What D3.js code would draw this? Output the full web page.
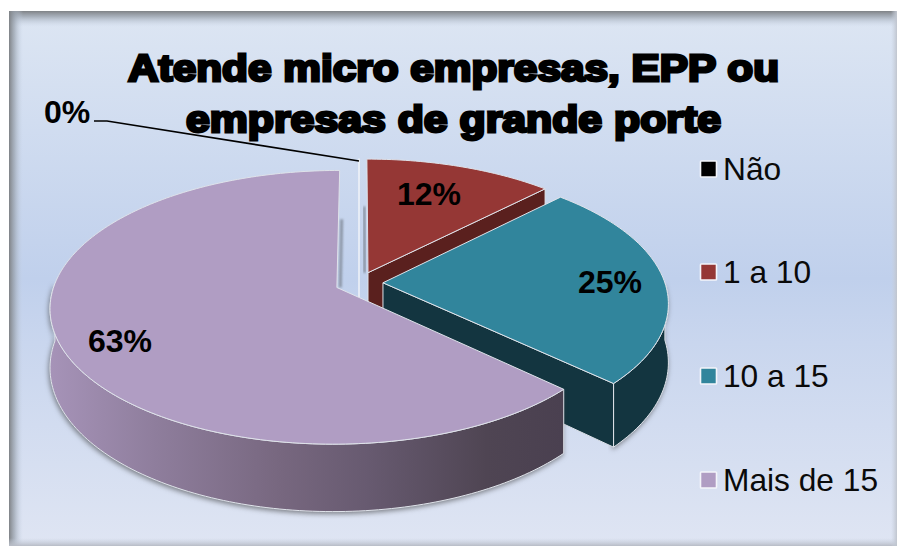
<!DOCTYPE html>
<html><head><meta charset="utf-8">
<script src="https://cdn.jsdelivr.net/npm/d3@7/dist/d3.min.js"></script>
<style>html,body{margin:0;padding:0;background:#fff}svg{display:block}</style>
</head><body><svg id="c" width="897" height="546"></svg>
<script>
const categories = ["Não", "1 a 10", "10 a 15", "Mais de 15"];
const values = [0, 12.4, 24.6, 63];
const topColors = ["#000000", "#953735", "#31859c", "#b09dc3"];
const wallColors = ["#ffffff", "#5a201e", "#133540", "#4a4050"];
const titleLines = ["Atende micro empresas, EPP ou", "empresas de grande porte"];
const labelPos = [[67,123],[429,205],[610,293],[120,352]];
const legendY = [169,272,376,480];

const svg = d3.select("#c"), defs = svg.append("defs");
const F = {x:359,y:283,R:282,K:132.7,p:0.1439,depth:57.4,explode:0.085};

function grad(id, stops, vertical){
  const g = defs.append("linearGradient").attr("id",id)
    .attr("x1",0).attr("y1",0).attr("x2",vertical?0:1).attr("y2",vertical?1:0);
  stops.forEach(s=>g.append("stop").attr("offset",s[0]).attr("stop-color",s[1]).attr("stop-opacity",s[2]===undefined?1:s[2]));
}
grad("bg",[[0,"#dde6f3"],[0.5,"#c0d0ec"],[0.62,"#c9d6ee"],[1,"#dfe5f3"]],true);
grad("edgeT",[[0,"#7f8286"],[0.35,"#9ba3ad",.8],[1,"#c8d4e6",0]],true);
grad("edgeL",[[0,"#7f8286"],[0.4,"#9aa3ae",.7],[1,"#c8d4e6",0]],false);
grad("edgeB",[[0,"#c8d0de",0],[1,"#b8bcc6"]],true);
grad("edgeR",[[0,"#c8d0de",0],[1,"#c0c5ce"]],false);
grad("purpleSide",[[0,"#a693b8"],[0.2,"#8f7e9d"],[0.45,"#77677f"],[0.62,"#675a70"],[0.85,"#4f4553"],[1,"#4a4050"]],false);
const sh = defs.append("filter").attr("id","sh").attr("x","-10%").attr("y","-10%").attr("width","120%").attr("height","125%")
  .attr("color-interpolation-filters","sRGB");
sh.append("feDropShadow").attr("dx",-1).attr("dy",2).attr("stdDeviation",2.5).attr("flood-color","#333").attr("flood-opacity",.55);
defs.append("filter").attr("id","blur").attr("x","-300%").attr("width","700%").attr("y","-10%").attr("height","120%")
  .append("feGaussianBlur").attr("stdDeviation",1);

// Background panel with bevelled edges
svg.append("rect").attr("x",9).attr("y",11).attr("width",888).attr("height",535).attr("fill","url(#bg)");
svg.append("rect").attr("x",9).attr("y",11).attr("width",888).attr("height",16).attr("fill","url(#edgeT)");
svg.append("rect").attr("x",9).attr("y",11).attr("width",14).attr("height",535).attr("fill","url(#edgeL)");
svg.append("rect").attr("x",9).attr("y",538).attr("width",888).attr("height",8).attr("fill","url(#edgeB)");
svg.append("rect").attr("x",891).attr("y",11).attr("width",6).attr("height",535).attr("fill","url(#edgeR)");

// Perspective projection of the pie plane
const project = (u,v,h=0)=>{
  const w = 1 - F.p*v;
  return [F.x + F.R*u/w, F.y + F.K*v/w + h*F.depth/w];
};
const arcs = d3.pie().sort(null).value(d=>d)(values);
const line = d3.line();
const rim = (a,ox,oy,a0,a1,h)=>{
  const n = Math.max(2,Math.ceil(Math.abs(a1-a0)/0.02));
  return d3.range(n+1).map(i=>{
    const t = a0+(a1-a0)*i/n;
    return project(ox+Math.sin(t),oy-Math.cos(t),h);
  });
};
const g = svg.append("g");
arcs.forEach(a=>{
  const mid=(a.startAngle+a.endAngle)/2;
  a.ox=F.explode*Math.sin(mid); a.oy=-F.explode*Math.cos(mid);
});
const stroke="#dfe3ea";

// Zero slice: only its two coincident walls show, as a thin pale line
{
  const a=arcs[0], p=project(a.ox,a.oy-1), q=project(a.ox,a.oy), r=project(a.ox,a.oy,1);
  g.append("path").attr("d",line([p,q,r])).attr("fill","none").attr("stroke","#f4f6fa").attr("stroke-width",1.4);
}
// Soft shade on the inner walls beside the gap
[[1,-0.012],[3,0.012]].forEach(([i,dx])=>{
  const a=arcs[i], p=project(a.ox+dx,a.oy-0.55), q=project(a.ox+dx,a.oy);
  g.append("path").attr("d",line([p,q])).attr("stroke","#8b95a5").attr("stroke-width",3)
    .attr("filter","url(#blur)").attr("fill","none");
});

function slice(i, sideFill, drawWall, sideFrom, sideTo){
  const a=arcs[i], ox=a.ox, oy=a.oy, s=a.startAngle, e=a.endAngle;
  const layer=g.append("g");
  const apex=project(ox,oy), apexB=project(ox,oy,1);
  if(sideFrom!==undefined){
    const topEdge=rim(a,ox,oy,sideFrom,sideTo,0), botEdge=rim(a,ox,oy,sideTo,sideFrom,1);
    layer.append("path").attr("d",line(topEdge.concat(botEdge))+"Z").attr("fill",sideFill)
      .attr("stroke",stroke).attr("stroke-width",1).attr("filter","url(#sh)");
  }
  if(drawWall){
    const q=project(ox+Math.sin(e),oy-Math.cos(e)), qb=project(ox+Math.sin(e),oy-Math.cos(e),1);
    layer.append("path").attr("d",line([apex,q,qb,apexB])+"Z").attr("fill",wallColors[i])
      .attr("stroke",stroke).attr("stroke-width",1);
  }
  layer.append("path").attr("d",line([apex].concat(rim(a,ox,oy,s,e,0)))+"Z").attr("fill",topColors[i])
    .attr("stroke",stroke).attr("stroke-width",1).attr("stroke-linejoin","round");
}
slice(1,wallColors[1],true);
slice(2,wallColors[2],true,Math.PI/2,arcs[2].endAngle);
slice(3,"url(#purpleSide)",false,arcs[3].startAngle,1.5*Math.PI+0.03);

// Leader line
svg.append("path").attr("d",line([[94,121],[107,121],[359,161]])).attr("fill","none").attr("stroke","#000").attr("stroke-width",1.6);

// Title (heavy, black-style face)
svg.append("g").selectAll("text").data(titleLines).join("text")
  .attr("x",453.5).attr("y",(d,i)=>81+i*51)
  .attr("text-anchor","middle").attr("font-family","Liberation Sans, Arial, sans-serif")
  .attr("font-weight",700).attr("font-size",37.5).attr("fill","#000").attr("stroke","#000").attr("stroke-width",2.8)
  .attr("paint-order","stroke")
  .attr("textLength",(d,i)=>i===0?651:535).attr("lengthAdjust","spacingAndGlyphs")
  .text(d=>d);

// Data labels
svg.append("g").selectAll("text").data(values).join("text")
  .attr("x",(d,i)=>labelPos[i][0]).attr("y",(d,i)=>labelPos[i][1])
  .attr("text-anchor","middle").attr("font-family","Liberation Sans, Arial, sans-serif")
  .attr("font-weight",700).attr("font-size",32).attr("fill","#000")
  .text(d=>Math.round(d)+"%");

// Legend
const lg=svg.append("g").selectAll("g").data(categories).join("g");
lg.append("rect").attr("x",700.5).attr("y",(d,i)=>legendY[i]-8).attr("width",16).attr("height",16)
  .attr("fill",(d,i)=>topColors[i]).attr("stroke","#f3f5fa").attr("stroke-width",1.6).attr("rx",.8);
lg.append("text").attr("x",723).attr("y",(d,i)=>legendY[i]+11)
  .attr("font-family","Liberation Sans, Arial, sans-serif").attr("font-size",31.7).attr("fill","#0a0a0a")
  .text(d=>d);
</script></body></html>
